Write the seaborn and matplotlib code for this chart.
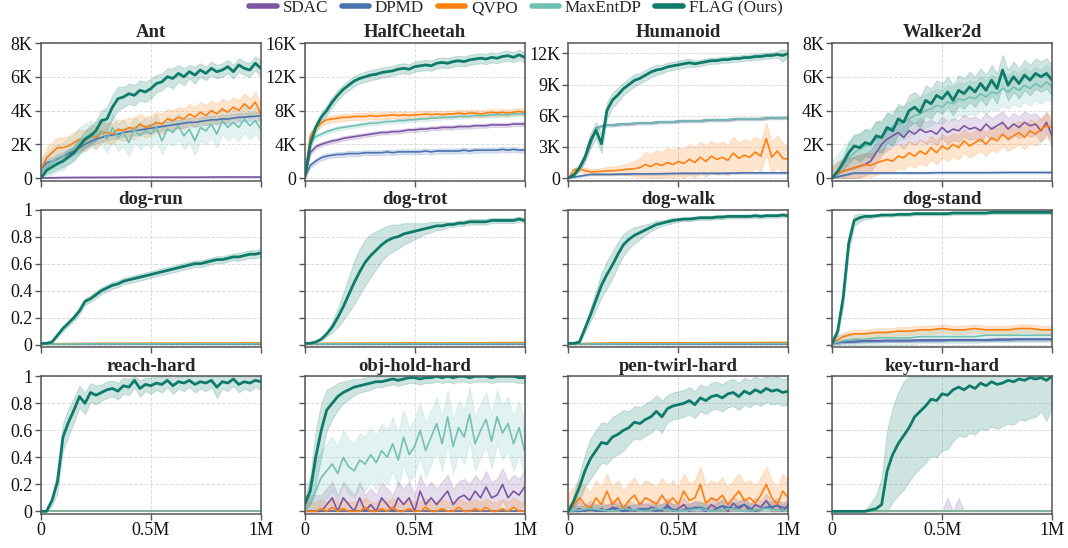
import numpy as np
import pandas as pd
import matplotlib
matplotlib.use("Agg")
import matplotlib.pyplot as plt
import seaborn as sns
from matplotlib.lines import Line2D
from matplotlib.ticker import FuncFormatter

# methods / colours
methods = ["SDAC", "DPMD", "QVPO", "MaxEntDP", "FLAG (Ours)"]
colors = ["#7d56a3", "#4a72b0", "#ff7f0e", "#72c0b4", "#0e7a69"]

titles = ["Ant", "HalfCheetah", "Humanoid", "Walker2d",
          "dog-run", "dog-trot", "dog-walk", "dog-stand",
          "reach-hard", "obj-hold-hard", "pen-twirl-hard", "key-turn-hard"]
row1_ticks = [[0, 2000, 4000, 6000, 8000], [0, 4000, 8000, 12000, 16000],
              [0, 3000, 6000, 9000, 12000], [0, 2000, 4000, 6000, 8000]]
row1_top = [8000, 16000, 13000, 8000]
x_ticks = [0, 500000, 1000000]
x_labels = ["0", "0.5M", "1M"]
rate_ticks = [0, 0.2, 0.4, 0.6, 0.8, 1.0]
rate_labels = ["0", "0.2", "0.4", "0.6", "0.8", "1"]

# ---- Ant ----
ant_sdac = [0, 30, 40, 40, 50, 50, 50, 50, 60, 60, 60]
ant_sdac_sd = 30
ant_dpmd = [500, 900, 1000, 1150, 1300, 1450, 1600, 1800, 2000, 2150, 2300, 2400, 2500, 2550, 2600, 2700, 2750, 2800, 2850, 2900,
            2950, 3000, 3050, 3100, 3150, 3200, 3250, 3300, 3300, 3350, 3400, 3450, 3450, 3500, 3500, 3550, 3600, 3600, 3650, 3650, 3700]
ant_dpmd_sd = 250
ant_qvpo = [500, 1200, 1500, 1800, 1800, 1900, 2100, 2300, 2200, 2600, 2400, 2700, 2700, 2600, 2900, 2800, 3000, 2900, 3200, 3000,
            3100, 3300, 3200, 3500, 3400, 3600, 3500, 3800, 3600, 3900, 3700, 4000, 3800, 4100, 3900, 4200, 4000, 4400, 4100, 4500, 3800]
ant_qvpo_sd = 600
ant_maxent = [300, 700, 1000, 1200, 1300, 1600, 1800, 2200, 2400, 2600, 2500, 2800, 2300, 3000, 2400, 2700, 2100, 2900, 2500, 2800,
              2600, 3000, 2200, 2900, 2700, 3100, 2500, 2900, 2200, 3000, 2800, 3200, 2600, 3400, 3000, 3300, 3000, 3500, 3100, 3400, 2900]
ant_maxent_sd = 800
ant_flag = [0, 450, 650, 850, 1000, 1250, 1500, 1900, 2300, 2500, 2800, 3400, 3500, 4200, 4700, 4800, 5000, 4900, 5200, 5100,
            5300, 5600, 5700, 6000, 5900, 6200, 6000, 6300, 6100, 6400, 6200, 6500, 6300, 6400, 6600, 6300, 6700, 6500, 6400, 6800, 6500]
ant_flag_sd = [0, 200, 300, 300, 350, 400, 400, 450, 500, 500, 600, 600, 700, 700, 700, 600, 600, 600, 600, 600,
               600, 500, 500, 500, 600, 500, 500, 400, 500, 400, 400, 400, 400, 400, 400, 400, 400, 400, 400, 400, 500]

# ---- HalfCheetah ----
hc_sdac = [0, 3000, 3700, 4000, 4200, 4400, 4500, 4700, 4800, 4900, 5000, 5100, 5200, 5300, 5400, 5400, 5500, 5500, 5600, 5700,
           5700, 5800, 5800, 5900, 5900, 6000, 6000, 6000, 6100, 6100, 6100, 6200, 6200, 6200, 6300, 6300, 6300, 6300, 6400, 6400, 6400]
hc_sdac_sd = 250
hc_dpmd = [0, 1500, 2000, 2400, 2600, 2700, 2800, 2800, 2900, 2900, 2900, 3000, 3000, 3000, 3000, 3100, 3000, 3100, 3100, 3100,
           3100, 3100, 3200, 3100, 3200, 3200, 3200, 3200, 3200, 3300, 3200, 3300, 3300, 3300, 3300, 3300, 3400, 3300, 3400, 3300, 3300]
hc_dpmd_sd = 300
hc_qvpo = [0, 5000, 6000, 6500, 6900, 7000, 7100, 7200, 7200, 7300, 7300, 7300, 7400, 7300, 7400, 7400, 7500, 7400, 7500, 7400,
           7500, 7500, 7600, 7500, 7600, 7500, 7600, 7600, 7700, 7600, 7700, 7700, 7600, 7700, 7800, 7700, 7800, 7700, 7800, 7900, 7800]
hc_qvpo_sd = 400
hc_maxent = [0, 4300, 4900, 5200, 5500, 5700, 5900, 6000, 6100, 6200, 6300, 6400, 6500, 6500, 6600, 6700, 6700, 6800, 6800, 6900,
             6900, 7000, 7000, 7100, 7100, 7200, 7200, 7200, 7300, 7300, 7300, 7400, 7400, 7400, 7500, 7500, 7500, 7500, 7600, 7600, 7600]
hc_maxent_sd = 250
hc_flag = [0, 4000, 6000, 7200, 8000, 9000, 9800, 10500, 11000, 11500, 11800, 12000, 12200, 12300, 12500, 12600, 12700, 12900, 13000, 12900,
           13200, 13300, 13400, 13300, 13600, 13700, 13600, 13800, 13900, 13800, 14000, 14100, 14200, 14100, 14300, 14200, 14400, 14500, 14300, 14600, 14300]
hc_flag_sd = 600

# ---- Humanoid ----
hum_sdac = [0, 300, 900, 1900, 3300, 4800, 5000, 5100, 5100, 5150, 5200, 5200, 5250, 5300, 5300, 5300, 5350, 5400, 5400, 5400,
            5450, 5500, 5500, 5500, 5500, 5550, 5600, 5600, 5600, 5600, 5650, 5700, 5700, 5700, 5700, 5700, 5750, 5800, 5800, 5800, 5800]
hum_sdac_sd = 120
hum_dpmd = [0, 350, 350, 400, 400, 450, 450, 450, 500, 500, 500]
hum_dpmd_sd = 100
hum_qvpo = [0, 800, 900, 700, 600, 600, 650, 700, 700, 750, 800, 850, 900, 1000, 1300, 1100, 1400, 1200, 1500, 1300,
            1600, 1400, 1800, 1500, 2000, 1600, 2100, 1800, 2000, 1700, 2400, 1900, 2200, 2000, 2500, 2100, 3800, 2000, 2600, 1900, 1800]
hum_qvpo_sd = [0, 200, 300, 300, 300, 300, 300, 400, 400, 400, 500, 600, 700, 900, 1200, 1200, 1300, 1300, 1400, 1400,
               1400, 1400, 1500, 1500, 1500, 1500, 1500, 1500, 1500, 1500, 1600, 1500, 1500, 1500, 1500, 1500, 1500, 1500, 1500, 1500, 1300]
hum_maxent = [0, 300, 1000, 2000, 3500, 4700, 5000, 5100, 5100, 5200, 5200, 5200, 5300, 5300, 5300, 5300, 5400, 5400, 5400, 5400,
              5500, 5500, 5500, 5500, 5500, 5600, 5600, 5600, 5600, 5600, 5700, 5700, 5700, 5700, 5700, 5700, 5800, 5800, 5800, 5800, 5800]
hum_maxent_sd = 150
hum_flag = [0, 300, 1000, 2000, 3600, 4600, 3300, 6500, 7500, 8000, 8600, 9000, 9400, 9600, 9900, 10200, 10400, 10500, 10700, 10800,
            10900, 11000, 11100, 11000, 11100, 11200, 11300, 11300, 11400, 11400, 11500, 11500, 11600, 11600, 11700, 11700, 11800, 11800, 11900, 11800, 12000]
hum_flag_sd = [0, 100, 300, 500, 700, 800, 900, 800, 700, 700, 600, 600, 600, 500, 500, 500, 500, 400, 400, 400,
               400, 400, 400, 300, 300, 300, 300, 300, 300, 300, 300, 300, 300, 300, 300, 300, 300, 300, 300, 600, 300]

# ---- Walker2d ----
w_sdac = [0, 300, 400, 500, 600, 700, 800, 1000, 1500, 2000, 2300, 2500, 2700, 2400, 2800, 2600, 2900, 2700, 2800, 2600,
          3000, 2700, 2900, 2800, 3100, 2900, 3000, 2800, 3200, 2900, 3100, 3300, 2900, 3200, 3000, 3300, 3100, 3200, 2800, 3300, 2500]
w_sdac_sd = 650
w_dpmd = [0, 300, 300, 300, 300, 320, 320, 320, 330, 330, 330]
w_dpmd_sd = 50
w_qvpo = [0, 300, 400, 500, 600, 700, 800, 750, 900, 1000, 1100, 1000, 1300, 1200, 1500, 1300, 1600, 1400, 1800, 1500,
          1900, 1700, 2000, 1800, 2200, 1900, 2100, 2300, 2000, 2400, 2200, 2600, 2300, 2500, 2700, 2400, 2800, 2600, 2900, 3100, 3000]
w_qvpo_sd = 700
w_maxent = [0, 400, 800, 1200, 1500, 1700, 1900, 2000, 2300, 2500, 2800, 3000, 3200, 3300, 3500, 3700, 3800, 4000, 4100, 4300,
            4200, 4500, 4400, 4700, 4600, 4800, 4700, 5000, 4800, 5100, 5000, 5300, 5100, 5400, 5200, 5500, 5300, 5600, 5400, 5700, 5400]
w_maxent_sd = 1000
w_flag = [0, 400, 900, 1500, 1900, 1800, 2100, 2000, 2500, 2400, 3000, 2800, 3500, 3300, 4000, 4200, 3900, 4600, 4400, 4900,
          4700, 5100, 4600, 5200, 5000, 5400, 5100, 5600, 5200, 5800, 5300, 6400, 5500, 6000, 5600, 6100, 5800, 6200, 6000, 6200, 5800]
w_flag_sd = [0, 200, 400, 600, 700, 800, 800, 800, 900, 900, 900, 900, 900, 900, 900, 900, 900, 900, 900, 900,
             900, 900, 900, 900, 900, 900, 900, 900, 900, 900, 900, 900, 900, 900, 900, 900, 900, 900, 900, 900, 900]

# ---- dog-run ----
dogrun_sdac = [0.005, 0.005, 0.005, 0.005, 0.005, 0.005, 0.005, 0.005, 0.005, 0.005, 0.005]
dogrun_dpmd = [0.005, 0.005, 0.005, 0.006, 0.006, 0.006, 0.006, 0.006, 0.006, 0.006, 0.006]
dogrun_qvpo = [0.005, 0.008, 0.009, 0.01, 0.01, 0.011, 0.011, 0.012, 0.012, 0.012, 0.013]
dogrun_maxent = [0.005, 0.005, 0.006, 0.006, 0.006, 0.006, 0.007, 0.007, 0.007, 0.007, 0.007]
dogrun_flag = [0.01, 0.01, 0.02, 0.07, 0.12, 0.16, 0.20, 0.25, 0.32, 0.34, 0.37, 0.40, 0.42, 0.44, 0.45, 0.47, 0.48, 0.49, 0.50, 0.51,
               0.52, 0.53, 0.54, 0.55, 0.56, 0.57, 0.58, 0.59, 0.60, 0.60, 0.61, 0.62, 0.63, 0.63, 0.64, 0.65, 0.65, 0.66, 0.67, 0.67, 0.68]
dogrun_flag_sd = [0.003, 0.004, 0.008, 0.015, 0.02, 0.02, 0.025, 0.025, 0.025, 0.025, 0.025, 0.025, 0.025, 0.025, 0.025, 0.025, 0.025, 0.025, 0.025, 0.025,
                  0.025, 0.025, 0.025, 0.025, 0.025, 0.025, 0.025, 0.025, 0.025, 0.025, 0.025, 0.025, 0.025, 0.025, 0.025, 0.025, 0.03, 0.03, 0.03, 0.03, 0.03]

# ---- dog-trot ----
dogtrot_sdac = [0.005, 0.005, 0.005, 0.005, 0.005, 0.005, 0.005, 0.005, 0.005, 0.005, 0.005]
dogtrot_dpmd = [0.005, 0.006, 0.006, 0.006, 0.006, 0.006, 0.006, 0.006, 0.006, 0.006, 0.006]
dogtrot_qvpo = [0.005, 0.01, 0.011, 0.012, 0.012, 0.013, 0.013, 0.014, 0.014, 0.015, 0.015]
dogtrot_maxent = [0.005, 0.006, 0.006, 0.007, 0.007, 0.007, 0.008, 0.008, 0.008, 0.008, 0.008]
dogtrot_flag = [0.01, 0.01, 0.02, 0.04, 0.08, 0.13, 0.20, 0.28, 0.37, 0.46, 0.54, 0.61, 0.66, 0.70, 0.74, 0.77, 0.79, 0.80, 0.82, 0.83,
                0.84, 0.85, 0.86, 0.87, 0.88, 0.88, 0.89, 0.89, 0.90, 0.90, 0.91, 0.91, 0.91, 0.91, 0.92, 0.92, 0.92, 0.92, 0.92, 0.93, 0.92]
dogtrot_flag_sd = [0, 0, 0.005, 0.01, 0.02, 0.04, 0.07, 0.10, 0.13, 0.16, 0.17, 0.17, 0.16, 0.14, 0.12, 0.11, 0.10, 0.09, 0.08, 0.07,
                   0.06, 0.05, 0.04, 0.04, 0.03, 0.03, 0.02, 0.02, 0.02, 0.02, 0.02, 0.02, 0.02, 0.02, 0.02, 0.02, 0.02, 0.02, 0.02, 0.02, 0.02]

# ---- dog-walk ----
dogwalk_sdac = [0.005, 0.005, 0.005, 0.005, 0.005, 0.005, 0.005, 0.005, 0.005, 0.005, 0.005]
dogwalk_dpmd = [0.005, 0.006, 0.006, 0.006, 0.006, 0.006, 0.006, 0.006, 0.006, 0.006, 0.006]
dogwalk_qvpo = [0.005, 0.01, 0.012, 0.013, 0.013, 0.014, 0.014, 0.015, 0.015, 0.016, 0.016]
dogwalk_maxent = [0.005, 0.006, 0.006, 0.007, 0.007, 0.007, 0.008, 0.008, 0.008, 0.008, 0.008]
dogwalk_flag = [0.01, 0.01, 0.02, 0.12, 0.22, 0.33, 0.44, 0.52, 0.59, 0.67, 0.74, 0.78, 0.81, 0.83, 0.85, 0.87, 0.89, 0.90, 0.91, 0.92,
                0.925, 0.93, 0.93, 0.935, 0.94, 0.94, 0.94, 0.945, 0.945, 0.95, 0.95, 0.95, 0.95, 0.95, 0.955, 0.95, 0.955, 0.955, 0.955, 0.96, 0.955]
dogwalk_flag_sd = [0, 0, 0.01, 0.03, 0.05, 0.07, 0.09, 0.10, 0.10, 0.09, 0.08, 0.07, 0.06, 0.05, 0.04, 0.03, 0.03, 0.02, 0.02, 0.02,
                   0.015, 0.015, 0.015, 0.015, 0.015, 0.015, 0.015, 0.015, 0.015, 0.015, 0.015, 0.015, 0.015, 0.015, 0.015, 0.015, 0.015, 0.015, 0.015, 0.015, 0.015]

# ---- dog-stand ----
dogstand_sdac = [0.01, 0.02, 0.025, 0.03, 0.03, 0.03, 0.03, 0.03, 0.035, 0.035, 0.035, 0.035, 0.035, 0.035, 0.035, 0.04, 0.04, 0.04, 0.04, 0.04, 0.04]
dogstand_dpmd = [0.01, 0.02, 0.02, 0.025, 0.025, 0.03, 0.03, 0.03, 0.03, 0.03, 0.03, 0.035, 0.035, 0.035, 0.035, 0.035, 0.035, 0.04, 0.04, 0.04, 0.04]
dogstand_qvpo = [0.01, 0.06, 0.08, 0.08, 0.09, 0.09, 0.10, 0.10, 0.11, 0.11, 0.12, 0.11, 0.11, 0.12, 0.11, 0.11, 0.11, 0.12, 0.12, 0.11, 0.11]
dogstand_maxent = [0.01, 0.03, 0.04, 0.04, 0.05, 0.05, 0.05, 0.05, 0.06, 0.06, 0.06, 0.06, 0.06, 0.06, 0.07, 0.07, 0.07, 0.07, 0.07, 0.07, 0.07]
dogstand_flag = [0.01, 0.10, 0.35, 0.75, 0.92, 0.94, 0.95, 0.95, 0.955, 0.96, 0.96, 0.96, 0.965, 0.965, 0.965, 0.97, 0.97, 0.97, 0.97, 0.97,
                 0.97, 0.97, 0.975, 0.975, 0.975, 0.975, 0.975, 0.975, 0.975, 0.98, 0.98, 0.98, 0.98, 0.98, 0.98, 0.98, 0.98, 0.98, 0.98, 0.98, 0.98]
dogstand_flag_sd = [0, 0.03, 0.07, 0.07, 0.04, 0.03, 0.02, 0.015, 0.012, 0.012, 0.012, 0.012, 0.012, 0.012, 0.012, 0.012, 0.012, 0.012, 0.012, 0.012,
                    0.012, 0.012, 0.012, 0.012, 0.012, 0.012, 0.012, 0.012, 0.012, 0.012, 0.012, 0.012, 0.012, 0.012, 0.012, 0.012, 0.012, 0.012, 0.012, 0.012, 0.012]

# ---- reach-hard ----
reach_sdac = [0, 0, 0, 0, 0, 0, 0, 0, 0, 0, 0]
reach_dpmd = [0, 0, 0, 0, 0, 0, 0, 0, 0, 0, 0]
reach_qvpo = [0, 0, 0, 0, 0, 0, 0, 0, 0, 0, 0]
reach_maxent = [0, 0, 0, 0, 0, 0, 0, 0, 0, 0, 0]
reach_flag = [0, 0.0, 0.08, 0.22, 0.55, 0.66, 0.75, 0.85, 0.80, 0.88, 0.86, 0.88, 0.90, 0.91, 0.89, 0.93, 0.92, 0.97, 0.91, 0.94,
              0.93, 0.95, 0.94, 0.97, 0.93, 0.96, 0.95, 0.97, 0.94, 0.96, 0.95, 0.97, 0.92, 0.96, 0.95, 0.98, 0.94, 0.96, 0.95, 0.97, 0.96]
reach_flag_sd = [0, 0.01, 0.04, 0.08, 0.10, 0.10, 0.09, 0.08, 0.08, 0.07, 0.07, 0.06, 0.06, 0.06, 0.06, 0.06, 0.06, 0.05, 0.06, 0.05,
                 0.06, 0.05, 0.06, 0.05, 0.06, 0.05, 0.06, 0.05, 0.06, 0.05, 0.06, 0.05, 0.08, 0.05, 0.06, 0.05, 0.06, 0.05, 0.06, 0.05, 0.06]

# ---- obj-hold-hard ----
objhold_sdac = [0, 0, 0, 0, 0.05, 0.10, 0, 0.10, 0.05, 0, 0.10, 0, 0.05, 0, 0.10, 0.05, 0, 0.10, 0.05, 0.10,
                0, 0.15, 0.05, 0.10, 0.05, 0.10, 0.15, 0.05, 0.10, 0.12, 0.08, 0.15, 0.10, 0.18, 0.10, 0.12, 0.20, 0.10, 0.15, 0.12, 0.18]
objhold_dpmd = [0, 0, 0, 0, 0, 0, 0, 0, 0, 0, 0]
objhold_qvpo = [0, 0, 0, 0.02, 0, 0.03, 0, 0.02, 0, 0, 0, 0.03, 0, 0, 0.02, 0, 0.03, 0, 0, 0.02,
                0, 0, 0.03, 0, 0, 0.02, 0, 0, 0.03, 0, 0, 0.02, 0, 0.03, 0, 0, 0.02, 0, 0.03, 0, 0]
objhold_maxent = [0, 0.05, 0.15, 0.25, 0.30, 0.35, 0.28, 0.40, 0.33, 0.30, 0.38, 0.35, 0.42, 0.36, 0.45, 0.40, 0.50, 0.38, 0.55, 0.42,
                  0.48, 0.60, 0.45, 0.55, 0.65, 0.50, 0.70, 0.48, 0.62, 0.55, 0.72, 0.50, 0.60, 0.68, 0.52, 0.70, 0.58, 0.65, 0.50, 0.62, 0.45]
objhold_flag = [0.05, 0.15, 0.40, 0.60, 0.75, 0.80, 0.85, 0.88, 0.90, 0.92, 0.93, 0.94, 0.95, 0.96, 0.96, 0.97, 0.98, 0.97, 0.98, 0.99,
                0.99, 0.98, 0.99, 0.99, 1.0, 0.99, 1.0, 0.99, 1.0, 1.0, 0.99, 1.0, 1.0, 1.0, 0.99, 1.0, 1.0, 1.0, 1.0, 0.99, 0.99]
objhold_flag_sd = [0.03, 0.10, 0.20, 0.20, 0.15, 0.12, 0.10, 0.08, 0.07, 0.06, 0.05, 0.05, 0.05, 0.04, 0.04, 0.04, 0.04, 0.04, 0.04, 0.04,
                   0.04, 0.04, 0.04, 0.04, 0.04, 0.04, 0.04, 0.04, 0.04, 0.04, 0.04, 0.04, 0.04, 0.04, 0.04, 0.04, 0.04, 0.04, 0.04, 0.04, 0.04]

# ---- pen-twirl-hard ----
pen_sdac = [0, 0, 0.02, 0, 0.03, 0, 0.02, 0, 0.03, 0.02, 0, 0.03, 0, 0.02, 0, 0.03, 0.02, 0, 0.05, 0,
            0.02, 0.05, 0, 0.03, 0.02, 0, 0.05, 0.02, 0.04, 0, 0.06, 0.02, 0.05, 0, 0.05, 0.03, 0.08, 0.02, 0.05, 0, 0.05]
pen_dpmd = [0, 0, 0.01, 0, 0.02, 0, 0.01, 0.02, 0, 0.03, 0, 0.02, 0.03, 0, 0.04, 0.02, 0.05, 0, 0.03, 0.04, 0.02]
pen_qvpo = [0, 0.05, 0.10, 0.05, 0.02, 0.10, 0.05, 0.15, 0.05, 0.10, 0.02, 0.08, 0.12, 0.05, 0.10, 0.08, 0.05, 0.12, 0.06, 0.10,
            0.05, 0.15, 0.08, 0.10, 0.20, 0.06, 0.10, 0.08, 0.12, 0.05, 0.10, 0.15, 0.08, 0.10, 0.06, 0.12, 0.20, 0.10, 0.05, 0.15, 0.10]
pen_maxent = [0, 0.01, 0.02, 0.01, 0, 0.02, 0.01, 0, 0.02, 0.01, 0, 0.01, 0.02, 0, 0.01, 0.02, 0, 0.01, 0.02, 0.01, 0]
pen_flag = [0, 0.08, 0.18, 0.30, 0.39, 0.45, 0.51, 0.50, 0.55, 0.57, 0.60, 0.62, 0.66, 0.65, 0.68, 0.70, 0.74, 0.70, 0.76, 0.78,
            0.79, 0.80, 0.82, 0.79, 0.84, 0.82, 0.85, 0.86, 0.84, 0.87, 0.88, 0.85, 0.89, 0.87, 0.90, 0.88, 0.91, 0.89, 0.90, 0.88, 0.89]
pen_flag_sd = [0, 0.05, 0.10, 0.12, 0.15, 0.15, 0.15, 0.15, 0.15, 0.15, 0.15, 0.12, 0.12, 0.12, 0.12, 0.12, 0.12, 0.12, 0.10, 0.10,
               0.10, 0.10, 0.10, 0.10, 0.10, 0.10, 0.10, 0.10, 0.10, 0.10, 0.10, 0.10, 0.10, 0.10, 0.10, 0.10, 0.10, 0.10, 0.10, 0.10, 0.10]

# ---- key-turn-hard ----
key_sdac = [0, 0, 0, 0, 0, 0, 0, 0, 0, 0, 0, 0, 0, 0, 0, 0, 0, 0, 0, 0,
            0, 0, 0, 0, 0, 0, 0, 0, 0, 0, 0, 0, 0, 0, 0, 0, 0, 0, 0, 0, 0]
key_sdac_sd = [0, 0, 0, 0, 0, 0, 0, 0, 0, 0, 0, 0, 0, 0, 0, 0, 0, 0, 0, 0,
               0, 0.1, 0, 0.1, 0, 0, 0, 0, 0, 0, 0, 0, 0, 0, 0, 0, 0, 0, 0, 0, 0]
key_dpmd = [0, 0, 0, 0, 0, 0, 0, 0, 0, 0, 0]
key_qvpo = [0, 0, 0, 0, 0, 0, 0, 0, 0, 0, 0]
key_maxent = [0, 0, 0, 0, 0, 0, 0, 0, 0, 0, 0]
key_flag = [0, 0, 0, 0, 0, 0, 0, 0.01, 0.02, 0.05, 0.30, 0.42, 0.50, 0.56, 0.62, 0.70, 0.74, 0.78, 0.83, 0.82,
            0.87, 0.86, 0.90, 0.92, 0.90, 0.93, 0.91, 0.95, 0.93, 0.96, 0.94, 0.95, 0.97, 0.96, 0.98, 0.97, 0.99, 0.98, 0.99, 0.97, 1.0]
key_flag_sd = [0, 0, 0, 0, 0, 0, 0.01, 0.05, 0.10, 0.20, 0.30, 0.35, 0.38, 0.40, 0.40, 0.42, 0.42, 0.42, 0.42, 0.42,
               0.42, 0.40, 0.38, 0.36, 0.35, 0.35, 0.34, 0.34, 0.33, 0.33, 0.33, 0.32, 0.32, 0.32, 0.30, 0.30, 0.30, 0.28, 0.25, 0.30, 0.22]

# panel table: (mean, spread) per method, order = methods
panels = [
    [(ant_sdac, ant_sdac_sd), (ant_dpmd, ant_dpmd_sd), (ant_qvpo, ant_qvpo_sd), (ant_maxent, ant_maxent_sd), (ant_flag, ant_flag_sd)],
    [(hc_sdac, hc_sdac_sd), (hc_dpmd, hc_dpmd_sd), (hc_qvpo, hc_qvpo_sd), (hc_maxent, hc_maxent_sd), (hc_flag, hc_flag_sd)],
    [(hum_sdac, hum_sdac_sd), (hum_dpmd, hum_dpmd_sd), (hum_qvpo, hum_qvpo_sd), (hum_maxent, hum_maxent_sd), (hum_flag, hum_flag_sd)],
    [(w_sdac, w_sdac_sd), (w_dpmd, w_dpmd_sd), (w_qvpo, w_qvpo_sd), (w_maxent, w_maxent_sd), (w_flag, w_flag_sd)],
    [(dogrun_sdac, 0.003), (dogrun_dpmd, 0.003), (dogrun_qvpo, 0.004), (dogrun_maxent, 0.003), (dogrun_flag, dogrun_flag_sd)],
    [(dogtrot_sdac, 0.003), (dogtrot_dpmd, 0.003), (dogtrot_qvpo, 0.005), (dogtrot_maxent, 0.003), (dogtrot_flag, dogtrot_flag_sd)],
    [(dogwalk_sdac, 0.003), (dogwalk_dpmd, 0.003), (dogwalk_qvpo, 0.005), (dogwalk_maxent, 0.003), (dogwalk_flag, dogwalk_flag_sd)],
    [(dogstand_sdac, 0.01), (dogstand_dpmd, 0.01), (dogstand_qvpo, 0.03), (dogstand_maxent, 0.05), (dogstand_flag, dogstand_flag_sd)],
    [(reach_sdac, 0), (reach_dpmd, 0), (reach_qvpo, 0), (reach_maxent, 0), (reach_flag, reach_flag_sd)],
    [(objhold_sdac, 0.12), (objhold_dpmd, 0), (objhold_qvpo, 0.07), (objhold_maxent, 0.2), (objhold_flag, objhold_flag_sd)],
    [(pen_sdac, 0.05), (pen_dpmd, 0.04), (pen_qvpo, 0.13), (pen_maxent, 0.03), (pen_flag, pen_flag_sd)],
    [(key_sdac, key_sdac_sd), (key_dpmd, 0), (key_qvpo, 0), (key_maxent, 0), (key_flag, key_flag_sd)],
]

sns.set_theme(style="ticks")
plt.rcParams["font.family"] = ["Liberation Serif", "DejaVu Serif"]
plt.rcParams["axes.edgecolor"] = "#555555"
plt.rcParams["xtick.color"] = "#555555"
plt.rcParams["ytick.color"] = "#555555"
plt.rcParams["xtick.labelcolor"] = "#111111"
plt.rcParams["ytick.labelcolor"] = "#111111"

fig, axes = plt.subplots(3, 4, figsize=(10.68, 5.48), dpi=100)
fig.subplots_adjust(left=0.0384, right=0.985, top=0.9215, bottom=0.062, wspace=0.2, hspace=0.21)

kfmt = FuncFormatter(lambda v, p: "0" if v == 0 else f"{int(round(v / 1000))}K")

for i, ax in enumerate(axes.flat):
    r, c = divmod(i, 4)
    for m, (mean, sd) in enumerate(panels[i]):
        y = np.asarray(mean, dtype=float)
        x = np.linspace(0, 1e6, len(y))
        s = np.broadcast_to(np.asarray(sd, dtype=float), y.shape)
        lo, hi = np.clip(y - s, 0, None), y + s
        if r > 0:
            hi = np.clip(hi, None, 1.0)
        ax.fill_between(x, lo, hi, color=colors[m], alpha=0.2, lw=0.7)
        df = pd.DataFrame({"step": x, "ret": y})
        sns.lineplot(data=df, x="step", y="ret", ax=ax, color=colors[m],
                     lw=2.0 if m == 4 else 1.2, errorbar=None)

    ax.set_title(titles[i], fontsize=13.5, fontweight="bold", pad=4)
    ax.set_xlabel("")
    ax.set_ylabel("")
    ax.set_xlim(0, 1e6)
    ax.set_xticks(x_ticks)
    if r == 2:
        ax.set_xticklabels(x_labels)
    else:
        ax.set_xticklabels([])
    if r == 0:
        top = row1_top[c]
        ax.set_ylim(-0.02 * top, top)
        ax.set_yticks(row1_ticks[c])
        ax.yaxis.set_major_formatter(kfmt)
    else:
        ax.set_ylim(-0.02, 1.0)
        ax.set_yticks(rate_ticks)
        ax.set_yticklabels(rate_labels if c == 0 else [])
    ax.grid(True, ls="--", lw=0.7, color="#dddddd")
    ax.tick_params(labelsize=13, length=4, width=1, pad=2)
    for sp in ax.spines.values():
        sp.set_visible(True)
        sp.set_linewidth(1.1)

handles = [Line2D([0], [0], color=colors[m], lw=4) for m in range(5)]
fig.legend(handles, methods, loc="upper center", bbox_to_anchor=(0.483, 1.028), ncol=5,
           frameon=False, fontsize=12.3, handlelength=1.6, columnspacing=0.8, handletextpad=0.35)

fig.savefig("out.png", dpi=100)
